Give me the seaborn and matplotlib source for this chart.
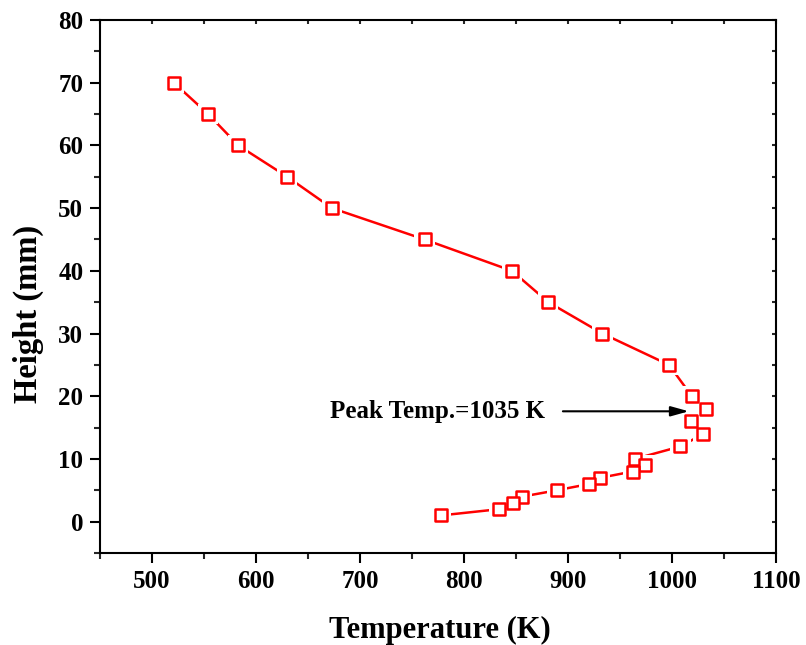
import numpy as np
import pandas as pd
import matplotlib
matplotlib.use("Agg")
import matplotlib.pyplot as plt
import seaborn as sns
from matplotlib.ticker import MultipleLocator

temperature = [521, 554, 583, 630, 673, 762, 846, 881, 933, 997, 1019, 1033,
               1018, 1030, 1008, 964, 974, 962, 931, 920, 889, 856, 847, 834, 778]
height = [70, 65, 60, 55, 50, 45, 40, 35, 30, 25, 20, 18,
          16, 14, 12, 10, 9, 8, 7, 6, 5, 4, 3, 2, 1]
annotation_text = "Peak Temp.=1035 K"

df = pd.DataFrame({"Temperature": temperature, "Height": height})

sns.set_theme(style="white")
plt.rcParams["font.family"] = ["Liberation Serif", "DejaVu Serif"]
plt.rcParams["font.weight"] = "bold"

fig = plt.figure(figsize=(8.06, 6.45), dpi=100)
ax = fig.add_axes([0.124, 0.1426, 0.839, 0.8264])

sns.lineplot(data=df, x="Temperature", y="Height", sort=False, estimator=None,
             color="#ff0000", linewidth=1.8, ax=ax, zorder=2)
# white halo (gap between line and marker)
sns.scatterplot(data=df, x="Temperature", y="Height", marker="s", s=14.5**2,
                color="white", edgecolor="none", linewidth=0, ax=ax, zorder=3)
sns.scatterplot(data=df, x="Temperature", y="Height", marker="s", s=8.3**2,
                facecolor="white", edgecolor="#ff0000", linewidth=1.8, ax=ax, zorder=4)

ax.set_xlim(450, 1100)
ax.set_ylim(-5, 80)
ax.set_xticks([500, 600, 700, 800, 900, 1000, 1100])
ax.xaxis.set_minor_locator(MultipleLocator(50))
ax.yaxis.set_major_locator(MultipleLocator(10))
ax.yaxis.set_minor_locator(MultipleLocator(5))

for s in ax.spines.values():
    s.set_visible(True)
    s.set_color("black")
    s.set_linewidth(1.5)

ax.tick_params(axis="both", which="major", direction="out", length=7, width=1.5,
               labelsize=18, colors="black", bottom=True, left=True, pad=5)
ax.tick_params(axis="both", which="minor", direction="out", length=4, width=1.5,
               bottom=True, left=True)
for lab in ax.get_xticklabels() + ax.get_yticklabels():
    lab.set_fontweight("bold")

top = ax.secondary_xaxis("top")
top.xaxis.set_major_locator(MultipleLocator(50))
top.tick_params(direction="in", length=3, width=1.5, labeltop=False)
right = ax.secondary_yaxis("right")
right.yaxis.set_major_locator(MultipleLocator(5))
right.tick_params(direction="in", length=3, width=1.5, labelright=False)

ax.set_xlabel("Temperature (K)", fontsize=22, fontweight="bold", color="black")
ax.set_ylabel("Height (mm)", fontsize=23.5, fontweight="bold", color="black")
ax.xaxis.label.set_va("center")
ax.yaxis.label.set_va("center")
ax.xaxis.set_label_coords(0.502, -0.145)
ax.yaxis.set_label_coords(-0.106, 0.448)

ax.text(671, 17.5, annotation_text, fontsize=18, fontweight="bold",
        ha="left", va="center", color="black")
ax.annotate("", xy=(1016, 17.6), xytext=(895, 17.6),
            arrowprops=dict(arrowstyle="-|>,head_length=0.9,head_width=0.25",
                            color="black", lw=1.5, shrinkA=0, shrinkB=0))

fig.savefig("out.png", dpi=100)
